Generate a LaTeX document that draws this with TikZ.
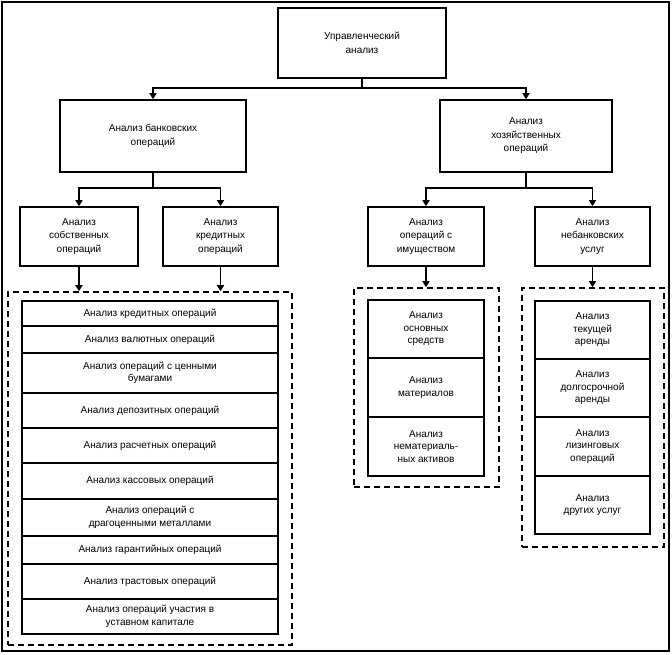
\documentclass[tikz,border=0pt]{standalone}
\usepackage{fontspec}
\setmainfont{Liberation Sans}
\usetikzlibrary{arrows.meta}
\begin{document}
\begin{tikzpicture}[x=1pt,y=-1pt,
  box/.style={draw,line width=1.6pt,align=center,inner sep=1pt,font=\fontsize{10}{13.5}\selectfont},
  row/.style={draw,line width=1.6pt,align=center,inner sep=1pt,font=\fontsize{10}{12.5}\selectfont},
  grp/.style={draw,line width=1.6pt,dash pattern=on 6pt off 4pt},
  arr/.style={line width=1.6pt,-{Triangle[length=6pt,width=7pt]}},
  ln/.style={line width=1.6pt}]
\useasboundingbox (0,0) rectangle (672,654);
\draw[line width=1.5pt] (2,2) rectangle (669,651);
% top
\node[box,minimum width=168,minimum height=70] (top) at (362,43) {Управленческий\\анализ};
\node[box,minimum width=186,minimum height=72] (bank) at (153,136) {Анализ банковских\\операций};
\node[box,minimum width=172,minimum height=72] (hoz) at (526,136) {Анализ\\хозяйственных\\операций};
\coordinate (j0) at (362,88);
\draw[ln] (top.south) -- (j0);
\draw[arr] (j0) -| (bank.north);
\draw[arr] (j0) -| (hoz.north);
% level 3
\node[box,minimum width=118,minimum height=59] (sob) at (79,236.5) {Анализ\\собственных\\операций};
\node[box,minimum width=115,minimum height=59] (kred) at (220.5,236.5) {Анализ\\кредитных\\операций};
\node[box,minimum width=116,minimum height=59] (imu) at (426,236.5) {Анализ\\операций с\\имуществом};
\node[box,minimum width=115,minimum height=59] (neb) at (592.5,236.5) {Анализ\\небанковских\\услуг};
\coordinate (j1) at (153,188);
\coordinate (j2) at (526,188);
\draw[ln] (bank.south) -- (j1);
\draw[arr] (j1) -| (sob.north);
\draw[arr] (j1) -| (kred.north);
\draw[ln] (hoz.south) -- (j2);
\draw[arr] (j2) -| (imu.north);
\draw[arr] (j2) -| (neb.north);
% groups
\node[grp,minimum width=284,minimum height=353] (g1) at (150,468.5) {};
\node[grp,minimum width=145,minimum height=199] (g2) at (426.5,387.5) {};
\node[grp,minimum width=142,minimum height=259] (g3) at (593,417.5) {};
\draw[arr] (sob.south) -- (sob.south |- g1.north);
\draw[arr] (kred.south) -- (kred.south |- g1.north);
\draw[arr] (imu.south) -- (imu.south |- g2.north);
\draw[arr] (neb.south) -- (neb.south |- g3.north);
% left rows
\foreach \n/\a/\b/\t in {
 r1/301/326/{Анализ кредитных операций},
 r2/326/353/{Анализ валютных операций},
 r3/353/393/{Анализ операций с ценными\\бумагами},
 r4/393/428/{Анализ депозитных операций},
 r5/428/463/{Анализ расчетных операций},
 r6/463/499/{Анализ кассовых операций},
 r7/499/536/{Анализ операций с\\драгоценными металлами},
 r8/536/564/{Анализ гарантийных операций},
 r9/564/599/{Анализ трастовых операций},
 r10/599/634/{Анализ операций участия в\\уставном капитале}}
 \node[row,minimum width=256,minimum height={\b-\a}] (\n) at (150,{(\a+\b)/2}) {\t};
% middle rows
\foreach \n/\a/\b/\t in {
 m1/300/358/{Анализ\\основных\\средств},
 m2/358/417/{Анализ\\материалов},
 m3/417/476/{Анализ\\нематериаль-\\ных активов}}
 \node[row,minimum width=116,minimum height={\b-\a}] (\n) at (426,{(\a+\b)/2}) {\t};
% right rows
\foreach \n/\a/\b/\t in {
 s1/301/359/{Анализ\\текущей\\аренды},
 s2/359/417/{Анализ\\долгосрочной\\аренды},
 s3/417/476/{Анализ\\лизинговых\\операций},
 s4/476/534/{Анализ\\других услуг}}
 \node[row,minimum width=115,minimum height={\b-\a}] (\n) at (592.5,{(\a+\b)/2}) {\t};
\end{tikzpicture}
\end{document}
